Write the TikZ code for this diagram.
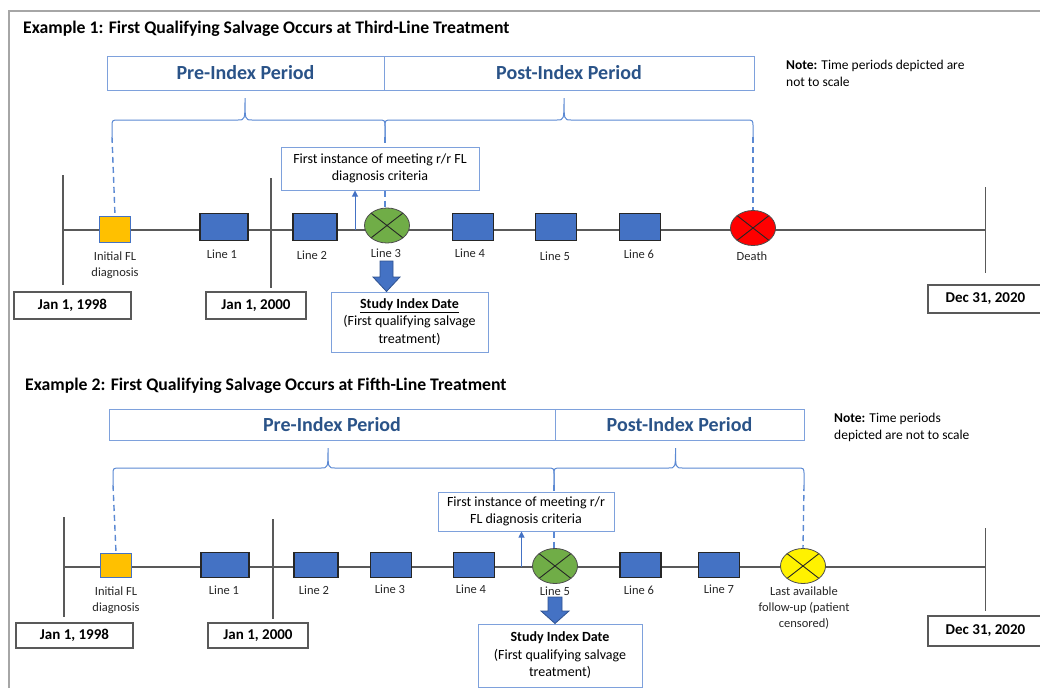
\documentclass[tikz,border=0pt]{standalone}
\usepackage{fontspec}
\setmainfont{Carlito}
\usetikzlibrary{positioning,shapes.geometric,arrows.meta}

\definecolor{hdrblue}{HTML}{7EA1DC}
\definecolor{hdrtext}{HTML}{2A5388}
\definecolor{brcblue}{HTML}{5B89D3}
\definecolor{boxblue}{HTML}{4472C4}
\definecolor{blkedge}{HTML}{2F528F}
\definecolor{flgold}{HTML}{FFC000}
\definecolor{evgreen}{HTML}{70AD47}
\definecolor{tlgrey}{HTML}{595959}
\definecolor{frgrey}{HTML}{A6A6A6}

% curly brace, tip up: left x, right x, tip x, end y, body y, tip y
\newcommand{\hbrace}[6]{%
  \draw[brc] (#1,#4) -- (#1,#5+7) .. controls (#1,#5) .. (#1+7,#5)
    -- (#3-7,#5) .. controls (#3,#5) .. (#3,#6) .. controls (#3,#5) .. (#3+7,#5)
    -- (#2-7,#5) .. controls (#2,#5) .. (#2,#5+7) -- (#2,#4);}

\begin{document}
\begin{tikzpicture}[
  x=1pt, y=-1pt,
  ttl/.style={anchor=west, inner sep=0pt, font=\bfseries\fontsize{17.7}{21}\selectfont},
  hdr/.style={draw=hdrblue, line width=1pt, text=hdrtext, inner sep=0pt,
    font=\bfseries\fontsize{20}{24}\selectfont},
  note/.style={anchor=west, align=left, inner sep=0pt, font=\fontsize{13.5}{17}\selectfont},
  brc/.style={draw=brcblue, line width=1pt},
  dsh/.style={draw=brcblue, line width=1.4pt, dash pattern=on 6pt off 4pt},
  tl/.style={draw=tlgrey, line width=1.3pt},
  ln/.style={draw=black!85, line width=1.6pt, fill=boxblue, inner sep=0pt,
    minimum width=41, minimum height=27},
  flsq/.style={draw=boxblue, line width=1pt, fill=flgold, inner sep=0pt,
    minimum width=31, minimum height=26},
  evt/.style={ellipse, draw=black!70, line width=0.8pt, inner sep=0pt,
    minimum width=45, minimum height=35,
    path picture={\draw[black!85, line width=0.9pt]
      (path picture bounding box.north west) -- (path picture bounding box.south east)
      (path picture bounding box.north east) -- (path picture bounding box.south west);}},
  lbl/.style={align=center, inner sep=0pt, text=black!85, font=\fontsize{12.5}{16}\selectfont},
  date/.style={draw=tlgrey, line width=1.2pt, inner sep=0pt, minimum height=27,
    font=\bfseries\fontsize{15}{18}\selectfont},
  info/.style={draw=hdrblue, line width=1pt, align=center, inner sep=0pt,
    font=\fontsize{14}{17.5}\selectfont},
  uparr/.style={draw=boxblue, line width=1pt, -{Triangle[length=6pt, width=6pt]}},
  blk/.style={fill=boxblue, draw=blkedge, line width=0.8pt}
]
  \useasboundingbox (0,0) rectangle (1040,688);
  \draw[draw=frgrey, line width=2pt] (9,688) -- (9,11) -- (1040,11);

  % ---------------- Example 1
  \node[ttl] (ttl1) at (23,29)
    {Example 1: First Qualifying Salvage Occurs at Third-Line Treatment};
  \node[hdr, minimum width=277, minimum height=34] (pre1) at (245.5,73) {Pre-Index Period};
  \node[hdr, minimum width=370, minimum height=34] (post1) at (569,73) {Post-Index Period};
  \node[note] (note1) at (786,73.5)
    {\textbf{Note:} Time periods depicted are\\not to scale};
  \hbrace{112}{385}{245}{137}{120}{98}
  \hbrace{385}{753}{564}{137}{120}{98}

  \coordinate (tl1s) at (63,230);
  \coordinate (tl1e) at (985.5,230);
  \draw[tl] (tl1s) -- (tl1e);
  \draw[tl] (63,175) -- (63,285);
  \draw[tl] (271,178) -- (271,288);
  \draw[tl] (985.5,187) -- (985.5,273);

  \node[flsq] (dx1) at (115,229) {};
  \node[ln, minimum width=48] (l11) at (224,227) {};
  \node[ln, minimum width=44] (l12) at (315,227) {};
  \node[evt, fill=evgreen] (l13) at (387,225.5) {};
  \node[ln] (l14) at (473,227) {};
  \node[ln] (l15) at (556,227) {};
  \node[ln] (l16) at (640,227) {};
  \node[evt, fill=red] (dth) at (753,228) {};

  \node[lbl] (dx1t) at (115,265) {Initial FL\\diagnosis};
  \node[lbl] (l11t) at (222,254) {Line 1};
  \node[lbl] (l12t) at (312,255) {Line 2};
  \node[lbl] (l13t) at (386,253) {Line 3};
  \node[lbl] (l14t) at (470,253) {Line 4};
  \node[lbl] (l15t) at (555,256) {Line 5};
  \node[lbl] (l16t) at (639,254) {Line 6};
  \node[lbl] (dtht) at (752,256) {Death};

  \node[date, minimum width=117] (d98a) at (72.5,305.5) {Jan 1, 1998};
  \node[date, minimum width=100] (d00a) at (256,305.5) {Jan 1, 2000};
  \node[date, minimum width=115, minimum height=28] (d20a) at (985.5,299) {Dec 31, 2020};

  \node[info, minimum width=198, minimum height=43] (fi1) at (380,168.5)
    {First instance of meeting r/r FL\\diagnosis criteria};
  \node[info, minimum width=157, minimum height=60] (idx1) at (409.5,322)
    {\underline{\textbf{Study Index Date}}\\(First qualifying salvage\\treatment)};

  \coordinate (up1) at (355,230);
  \draw[uparr] (up1) -- (up1 |- fi1.south);
  \coordinate (b1l) at (112,137);
  \coordinate (b1m) at (385,137);
  \coordinate (b1r) at (753,137);
  \draw[dsh] (b1l) -- (dx1.north);
  \draw[dsh] (b1m) -- (b1m |- fi1.north);
  \draw[dsh] (fi1.south -| b1m) -- (b1m |- l13.north);
  \draw[dsh] (b1r) -- (dth.north);
  \filldraw[blk] (380,261) -- (393,261) -- (393,277) -- (400,277)
    -- (idx1.north -| 386.5,0) -- (373,277) -- (380,277) -- cycle;

  % ---------------- Example 2
  \node[ttl] (ttl2) at (25,386)
    {Example 2: First Qualifying Salvage Occurs at Fifth-Line Treatment};
  \node[hdr, minimum width=446, minimum height=31] (pre2) at (332,424.5) {Pre-Index Period};
  \node[hdr, minimum width=249, minimum height=31] (post2) at (679.5,424.5) {Post-Index Period};
  \node[note] (note2) at (834,427)
    {\textbf{Note:} Time periods\\depicted are not to scale};
  \hbrace{113}{554}{328}{485}{468}{448}
  \hbrace{554}{804}{675.5}{485}{468}{448}

  \coordinate (tl2s) at (64,567);
  \coordinate (tl2e) at (985.5,567);
  \draw[tl] (tl2s) -- (tl2e);
  \draw[tl] (64,517) -- (64,617);
  \draw[tl] (273,519) -- (273,619);
  \draw[tl] (985.5,528) -- (985.5,611);

  \node[flsq, minimum height=24] (dx2) at (116,565) {};
  \node[ln, minimum width=48, minimum height=25] (l21) at (225,565) {};
  \node[ln, minimum width=44, minimum height=25] (l22) at (316,565) {};
  \node[ln, minimum height=25] (l23) at (391,565) {};
  \node[ln, minimum height=25] (l24) at (474,565) {};
  \node[evt, fill=evgreen] (l25) at (555,566) {};
  \node[ln, minimum height=25] (l26) at (640.5,565) {};
  \node[ln, minimum height=25] (l27) at (719,565) {};
  \node[evt, fill=yellow] (lfu) at (803,566) {};

  \node[lbl] (dx2t) at (116,600) {Initial FL\\diagnosis};
  \node[lbl] (l21t) at (224,590) {Line 1};
  \node[lbl] (l22t) at (314,590) {Line 2};
  \node[lbl] (l23t) at (390,589) {Line 3};
  \node[lbl] (l24t) at (471,589) {Line 4};
  \node[lbl] (l25t) at (555,591) {Line 5};
  \node[lbl] (l26t) at (639,590) {Line 6};
  \node[lbl] (l27t) at (719,589) {Line 7};
  \node[lbl] (lfut) at (804,608) {Last available\\follow-up (patient\\censored)};

  \node[date, minimum width=117, minimum height=25] (d98b) at (74.5,635.5) {Jan 1, 1998};
  \node[date, minimum width=100, minimum height=25] (d00b) at (258,635.5) {Jan 1, 2000};
  \node[date, minimum width=115, minimum height=30] (d20b) at (985.5,631) {Dec 31, 2020};

  \node[info, minimum width=176, minimum height=39] (fi2) at (526,511.5)
    {First instance of meeting r/r\\FL diagnosis criteria};
  \node[info, minimum width=164, minimum height=63] (idx2) at (560,655.5)
    {\textbf{Study Index Date}\\(First qualifying salvage\\treatment)};

  \coordinate (up2) at (521.5,567);
  \draw[uparr] (up2) -- (up2 |- fi2.south);
  \coordinate (b2l) at (113,485);
  \coordinate (b2m) at (554,485);
  \coordinate (b2r) at (804,485);
  \draw[dsh] (b2l) -- (dx2.north);
  \draw[dsh] (b2m) -- (b2m |- fi2.north);
  \draw[dsh] (fi2.south -| b2m) -- (b2m |- l25.north);
  \draw[dsh] (b2r) -- (lfu.north);
  \filldraw[blk] (548,597) -- (562,597) -- (562,611) -- (569,611)
    -- (idx2.north -| 555,0) -- (541,611) -- (548,611) -- cycle;
\end{tikzpicture}
\end{document}
